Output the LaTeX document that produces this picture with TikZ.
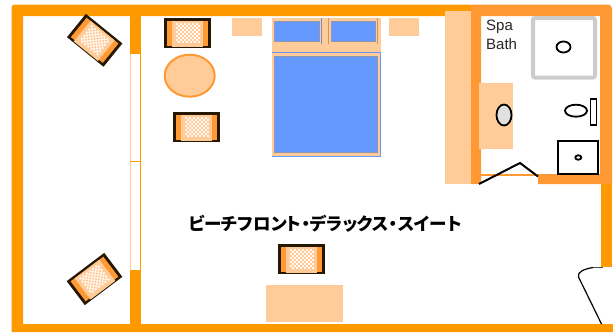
\documentclass[tikz,border=0pt]{standalone}
\usepackage{fontspec}
\usetikzlibrary{shapes.geometric}
\setsansfont{Liberation Sans}
\newfontfamily\cjkfont[RawFeature=+palt]{Noto Sans CJK JP}
\definecolor{wallOrange}{HTML}{FF9900}
\definecolor{bathOrange}{HTML}{FF9933}
\definecolor{woodLight}{HTML}{FFCC99}
\definecolor{bedBlue}{HTML}{6699FF}
\begin{document}
\begin{tikzpicture}
            [x=1pt, y=-1pt,
            myWall/.style={fill=wallOrange},
            myBathWall/.style={fill=bathOrange},
            myWood/.style={fill=woodLight},
            myPillow/.style={fill=bedBlue, draw=black!25!bedBlue!60!woodLight, line width=1pt},
            myFixture/.style={draw=black, line width=1.8pt},
            loungeChair/.pic={
                \fill[black!85!wallOrange] (-23.5,-15) rectangle (23.5,15);
                \fill[bathOrange] (-20.5,-12.5) rectangle (20.5,12.5);
                \fill[woodLight] (-15.5,-12.5) rectangle (15.5,14);
                \foreach \i in {0,...,11}
                    \foreach \j in {0,...,9} {
                        \pgfmathparse{int(mod(\i+\j,2))}
                        \ifnum\pgfmathresult=0
                            \fill[white!85!woodLight] (-12+2*\i,-10+2*\j) rectangle ++(2,2);
                        \fi
                    }
            }]

            \useasboundingbox (0,0) rectangle (613,332);

            % outer walls
            \fill[myWall] (11.5,332) [rounded corners=3pt] -- (11.5,4.5) -- (472,4.5) [sharp corners] -- (472,16) -- (23,16) -- (23,324) -- (613,324) -- (613,332) -- cycle;
            \fill[myWall] (601,184) rectangle (612,267);
            \fill[myWall] (130,16) rectangle (141,54);
            \fill[myWall] (130,270) rectangle (141,324);

            % terrace glazing
            \draw[woodLight, line width=0.7pt] (130,54) -- (130,270);
            \draw[wallOrange, line width=1.2pt] (140.2,54) -- (140.2,270);
            \draw[wallOrange, line width=1.5pt] (130,161.7) -- (140,161.7);

            % bath walls
            \fill[myWood] (445,11) rectangle (471,184);
            \fill[myBathWall] (471,184) -- (471,4.5) [rounded corners=4pt] -- (612,4.5) [sharp corners] -- (612,184) -- (538,184) -- (538,174) -- (600,174) -- (600,16) -- (481,16) -- (481,184) -- cycle;
            \fill[myBathWall] (481,174) rectangle (538,176);

            % bed
            \fill[myWood] (272,18) rectangle (381,156);
            \draw[bedBlue, line width=1pt] (272,52.5) -- (380.5,52.5) -- (380.5,156) -- (272,156);
            \draw[myPillow] (274.5,56) rectangle (377,152.5);
            \draw[myPillow] (274.5,21.5) rectangle (319,41);
            \draw[myPillow] (331,21.5) rectangle (375,41);
            \draw[bedBlue!70!gray, line width=0.8pt] (321.5,18) -- (321.5,44);
            \draw[black!25!woodLight, line width=0.8pt] (328.5,18) -- (328.5,44);
            \draw[black!25!woodLight, line width=0.8pt] (377.5,18) -- (377.5,44);

            % night stands and desk
            \fill[myWood] (232,18) rectangle (262,36);
            \fill[myWood] (389,18) rectangle (419,36);
            \fill[myWood] (266,285) rectangle (343,322);

            % table and chairs
            \node[ellipse, draw=bathOrange, fill=woodLight, line width=2pt, inner sep=0pt, minimum width=50pt, minimum height=42pt] (roundTable) at (189.7,75.7) {};
            \pic (chairTable) at (187.7,33.3) {loungeChair};
            \pic (chairWindow) at (196.5,127.3) {loungeChair};
            \pic (chairDesk) at (301.7,259.3) {loungeChair};
            \pic[rotate=-39] (chairTerraceTop) at (94.7,40.3) {loungeChair};
            \pic[rotate=37] (chairTerraceBottom) at (94.5,279) {loungeChair};

            % bath fixtures
            \fill[myWood] (479,83) rectangle (513,149);
            \node[ellipse, myFixture, fill=black!12, inner sep=0pt, minimum width=15pt, minimum height=21pt] (basin) at (504,115) {};
            \draw[black!20, line width=4pt, rounded corners=2pt] (533,18) rectangle (595,77.5);
            \node[ellipse, myFixture, inner sep=0pt, minimum width=14pt, minimum height=11pt] (spaDrain) at (563.5,47) {};
            \node[ellipse, myFixture, inner sep=0pt, minimum width=22pt, minimum height=12pt] (toiletBowl) at (576,110.7) {};
            \node[rectangle, myFixture, inner sep=0pt, minimum width=6pt, minimum height=26pt] (toiletTank) at (593.5,112) {};
            \node[rectangle, draw, line width=2pt, inner sep=0pt, minimum width=40pt, minimum height=33pt] (showerTray) at (578.3,157.5) {};
            \node[ellipse, myFixture, inner sep=0pt, minimum width=6pt, minimum height=4.5pt] (showerDrain) at (578.3,157.5) {};

            % doors
            \draw[black, line width=2pt] (479,184) -- (520,163) -- (538,176.5);
            \draw[black!70, line width=1.5pt] (603,267.5) -- (593,267.5);
            \draw[black, line width=1.2pt] (593,267.5) .. controls (584,269) and (577,272) .. (578.5,277) -- (601.5,324);

            % labels
            \node[font=\sffamily\fontsize{15}{19}\selectfont, text=black!85, align=left, anchor=north west, inner sep=0pt] (spaLabel) at (486,20) {Spa\\Bath};
            \node[font=\cjkfont\bfseries\fontsize{17.5}{17.5}\selectfont, inner sep=0pt] (roomLabel) at (325,224) {ビーチフロント・デラックス・スイート};
        \end{tikzpicture}
\end{document}
